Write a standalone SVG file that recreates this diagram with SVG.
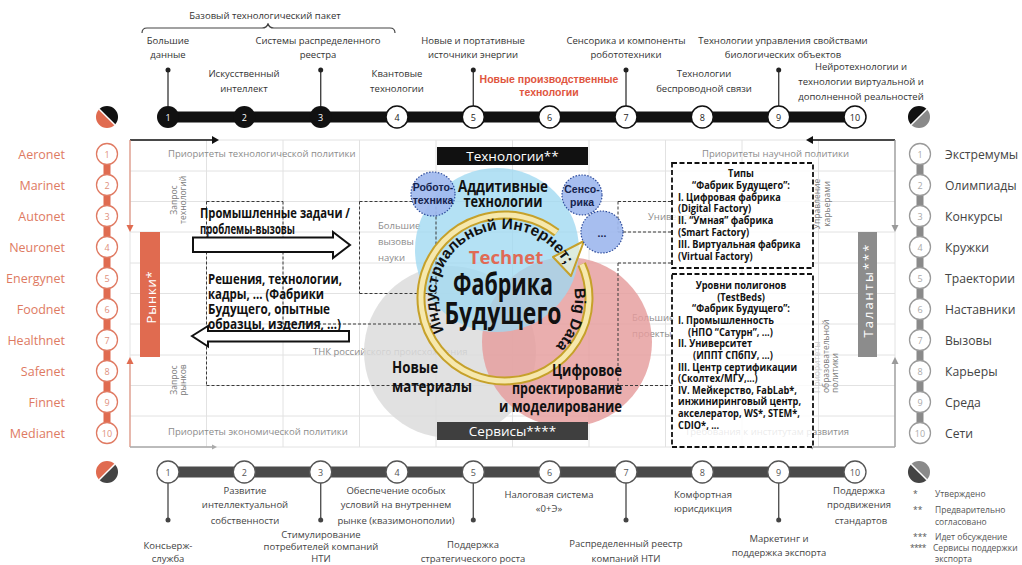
<svg xmlns="http://www.w3.org/2000/svg" width="1022" height="565" viewBox="0 0 1022 565">
<defs>
<style>
text{font-family:"Open Sans","Liberation Sans",sans-serif}
.t{font-size:9.5px;fill:#333;text-anchor:middle}
.b{font-family:"Liberation Sans",Arial,sans-serif;font-weight:bold;fill:#111}
.g{stroke:#e2e2e2;stroke-width:1;fill:none}
.d{stroke:#3a3a3a;stroke-width:1;stroke-dasharray:3 2;fill:none}
.box{stroke:#111;stroke-width:1.8;stroke-dasharray:5 2.5;fill:#fff;fill-opacity:0.82}
.gl{font-size:9.5px;fill:#8c8c8c}
.sc{fill:#9fb9ee;fill-opacity:0.92;stroke:#2e4c9c;stroke-width:1.2;stroke-dasharray:1.5 1.5}
.sct{font-family:"Liberation Sans",Arial,sans-serif;font-weight:bold;font-size:10.5px;fill:#14224d;text-anchor:middle}
.ln{font-size:12.5px;fill:#de7a62;text-anchor:end}
.rn{font-size:12.2px;fill:#444}
.cn{font-size:9px;text-anchor:middle}
.lc{fill:#fff;stroke:#e07a62;stroke-width:1.3}
.rc{fill:#fff;stroke:#9a9a9a;stroke-width:1.3}
.tk{fill:#111}
.tw{fill:#fff;stroke:#111;stroke-width:1.5}
.bw{fill:#fff;stroke:#555;stroke-width:1.3}
.stem{stroke:#444;stroke-width:1.4}
</style>
<path id="tp1" d="M445.2 332.5 A69 69 0 1 1 567.5 268.8"/>
<path id="tp2" d="M573.5 283.4 A70 70 0 0 1 545.2 355.3"/>
</defs>
<rect width="1022" height="565" fill="#fff"/>

<!-- grid -->
<g id="grid" class="g">
<path d="M130 140H895M130 171H895M130 201.5H895M130 232H895M130 263H895M130 293.5H895M130 324H895M130 355H895M130 385.5H895M130 416H895M130 447H895"/>
<path d="M130 140V447M206.5 140V447M283 140V447M359.5 140V447M436 140V447M512.5 140V447M589 140V447M665.5 140V447M742 140V447M818.5 140V447M895 140V447"/>
</g>

<!-- frame arrows -->
<g id="frame" fill="none" stroke-width="1.3">
<path d="M130 140H213" stroke="#111"/>
<path d="M212 136L219 140L212 144Z" fill="#111"/>
<path d="M130 140V226" stroke="#e29a88"/>
<path d="M126.5 225L130 232L133.5 225Z" fill="#e06b50"/>
<path d="M130 447V363" stroke="#e29a88"/>
<path d="M126.5 364L130 357L133.5 364Z" fill="#e06b50"/>
<path d="M130 447H213" stroke="#aaa"/>
<path d="M212 444.5L217 447L212 449.5Z" fill="#aaa"/>
<path d="M895 140H812" stroke="#111"/>
<path d="M813 136L806 140L813 144Z" fill="#111"/>
<path d="M895 140V226" stroke="#999"/>
<path d="M891.5 225L895 232L898.5 225Z" fill="#999"/>
<path d="M895 447V363" stroke="#999"/>
<path d="M891.5 364L895 357L898.5 364Z" fill="#999"/>
<path d="M895 447H812" stroke="#aaa"/>
<path d="M813 444.5L808 447L813 449.5Z" fill="#aaa"/>
</g>

<!-- gray labels in grid -->
<g id="grid-labels" class="gl">
<text x="168" y="157">Приоритеты технологической политики</text>
<text x="168" y="435">Приоритеты экономической политики</text>
<text x="702" y="157">Приоритеты научной политики</text>
<text x="685" y="435">Требования к институтам развития</text>
<text x="378" y="229">Большие</text>
<text x="378" y="245">вызовы</text>
<text x="378" y="261">науки</text>
<text x="313" y="355">ТНК российского происхождения</text>
<text x="648" y="220">Университеты</text>
<text x="632" y="321">Большие</text>
<text x="632" y="337">проекты</text>
<g font-size="8.5" fill="#7a7a7a" text-anchor="middle">
<text transform="translate(177 200) rotate(-90)">Запрос</text>
<text transform="translate(186 200) rotate(-90)">технологий</text>
<text transform="translate(177 380) rotate(-90)">Запрос</text>
<text transform="translate(186 380) rotate(-90)">рынков</text>
<text transform="translate(820 204) rotate(-90)">Управление</text>
<text transform="translate(830 204) rotate(-90)">карьерами</text>
</g>
<g font-size="8.5" fill="#7a7a7a">
<text transform="translate(820 393) rotate(-90)" fill="#cfcfcf">Приоритеты</text>
<text transform="translate(829 393) rotate(-90)">образовательной</text>
<text transform="translate(838 393) rotate(-90)">политики</text>
</g>
</g>

<!-- Venn circles -->
<g id="venn">
<circle id="materials" cx="450" cy="352" r="86" fill="#dcdcdc" fill-opacity="0.85"/>
<circle id="digital" cx="567" cy="342" r="85" fill="#e59c9c" fill-opacity="0.82"/>
<circle id="additive" cx="497" cy="250" r="82" fill="#9fd8f1" fill-opacity="0.78"/>
</g>

<!-- dashed areas -->
<g id="dashed-areas" class="d">
<path d="M206.5 201.5H283M206.5 201.5V385.5M283 201.5V324M283 324H432M206.5 385.5H470"/>
<path d="M359.5 201.5H436M359.5 201.5V293.5M359.5 293.5H436M436 201.5V293.5"/>
<path d="M618 201.5H672M618 201.5V232M618 232H672M618 263H672M618 263V385.5M600 385.5H672"/>
</g>

<!-- cycle ring -->
<g id="cycle">
<path d="M556.7 232.6 A84 83 0 1 0 581.7 264.2" fill="none" stroke="#c6a12a" stroke-width="9"/>
<path d="M556.7 232.6 A84 83 0 1 0 581.7 264.2" fill="none" stroke="#f6e8ad" stroke-width="5"/>
<polygon points="553,257 584,241 571,276" fill="#eef1d6" fill-opacity="0.7" stroke="#c6a12a" stroke-width="2" stroke-linejoin="round"/>
<text class="b" font-size="15.5"><textPath href="#tp1" startOffset="2">Индустриальный Интернет;</textPath></text>
<text class="b" font-size="15.5"><textPath href="#tp2" startOffset="5">Big Data</textPath></text>
</g>

<!-- center labels -->
<g id="center-labels" class="b">
<text x="503" y="192" font-size="15.5" text-anchor="middle" textLength="90" lengthAdjust="spacingAndGlyphs">Аддитивные</text>
<text x="503" y="207" font-size="15.5" text-anchor="middle" textLength="79" lengthAdjust="spacingAndGlyphs">технологии</text>
<text x="506" y="264" font-size="18.5" text-anchor="middle" style="fill:#e06a55">Technet</text>
<text x="503" y="295" font-size="30" text-anchor="middle" textLength="100" lengthAdjust="spacingAndGlyphs">Фабрика</text>
<text x="503" y="324" font-size="30" text-anchor="middle" textLength="117" lengthAdjust="spacingAndGlyphs">Будущего</text>
<text x="392" y="373" font-size="16" textLength="46" lengthAdjust="spacingAndGlyphs">Новые</text>
<text x="392" y="392" font-size="16" textLength="80" lengthAdjust="spacingAndGlyphs">материалы</text>
<text x="622" y="376" font-size="16" text-anchor="end" textLength="70" lengthAdjust="spacingAndGlyphs">Цифровое</text>
<text x="622" y="394" font-size="16" text-anchor="end" textLength="110" lengthAdjust="spacingAndGlyphs">проектирование</text>
<text x="622" y="412" font-size="16" text-anchor="end" textLength="123" lengthAdjust="spacingAndGlyphs">и моделирование</text>
</g>

<!-- small circles -->
<g id="robotics"><circle class="sc" cx="433" cy="194" r="22"/><text class="sct" x="433" y="191">Робото-</text><text class="sct" x="433" y="204">техника</text></g>
<g id="sensorics"><circle class="sc" cx="582" cy="195" r="20"/><text class="sct" x="582" y="193">Сенсо-</text><text class="sct" x="582" y="206">рика</text></g>
<g id="etc"><circle class="sc" cx="602" cy="232" r="21"/><text class="sct" x="602" y="237" font-size="14">...</text></g>

<!-- block arrows and left texts -->
<g id="left-flow">
<polygon points="193,237.5 333,237.5 333,232 350,245 333,258 333,252 193,252" fill="#fff" stroke="#111" stroke-width="2"/>
<polygon points="192,336 208,326 208,331 349,331 349,341.5 208,341.5 208,346.5" fill="#fff" stroke="#111" stroke-width="2"/>
<g class="b" font-size="13.5">
<text x="200" y="217.5" textLength="150" lengthAdjust="spacingAndGlyphs">Промышленные задачи /</text>
<text x="200" y="234" textLength="95" lengthAdjust="spacingAndGlyphs">проблемы-вызовы</text>
<text x="208" y="284" textLength="134" lengthAdjust="spacingAndGlyphs">Решения, технологии,</text>
<text x="208" y="299" textLength="116" lengthAdjust="spacingAndGlyphs">кадры, … (Фабрики</text>
<text x="208" y="314" textLength="122" lengthAdjust="spacingAndGlyphs">Будущего, опытные</text>
<text x="208" y="329" textLength="133" lengthAdjust="spacingAndGlyphs">образцы, изделия, …)</text>
</g>
</g>

<!-- tech / services bars -->
<g id="tech-bar"><rect x="437" y="147" width="151" height="18" fill="#111"/><text x="512.5" y="161" font-size="13.5" fill="#fff" text-anchor="middle">Технологии**</text></g>
<g id="services-bar"><rect x="437" y="422" width="151" height="18" fill="#3f3f3f"/><text x="512.5" y="436" font-size="13.5" fill="#fff" text-anchor="middle">Сервисы****</text></g>

<!-- types box -->
<g id="types-box">
<rect class="box" x="672" y="163" width="141" height="105"/>
<g class="b" font-size="11" text-anchor="middle" transform="translate(741 0) scale(0.84 1)">
<text x="0" y="177">Типы</text>
<text x="0" y="188.8">“Фабрик Будущего”:</text>
</g>
<g class="b" font-size="11" transform="translate(678 0) scale(0.84 1)">
<text x="0" y="200.6">I. Цифровая фабрика</text>
<text x="0" y="212.4">(Digital Factory)</text>
<text x="0" y="224.2">II. “Умная” фабрика</text>
<text x="0" y="236">(Smart Factory)</text>
<text x="0" y="247.8">III. Виртуальная фабрика</text>
<text x="0" y="259.6">(Virtual Factory)</text>
</g>
</g>

<!-- testbeds box -->
<g id="testbeds-box">
<rect class="box" x="672" y="274" width="141" height="173"/>
<g class="b" font-size="11" text-anchor="middle" transform="translate(741 0) scale(0.84 1)">
<text x="0" y="289">Уровни полигонов</text>
<text x="0" y="300.7">(TestBeds)</text>
<text x="0" y="312.3">“Фабрик Будущего”:</text>
</g>
<g class="b" font-size="11" transform="translate(678 0) scale(0.84 1)">
<text x="0" y="324">I. Промышленность</text>
<text x="12" y="335.6">(НПО “Сатурн”, ...)</text>
<text x="0" y="347.3">II. Университет</text>
<text x="18" y="358.9">(ИППТ СПбПУ, ...)</text>
<text x="0" y="370.6">III. Центр сертификации</text>
<text x="0" y="382.2">(Сколтех/МГУ,...)</text>
<text x="0" y="393.9">IV. Мейкерство, FabLab*,</text>
<text x="0" y="405.5">инжиниринговый центр,</text>
<text x="0" y="417.2">акселератор, WS*, STEM*,</text>
<text x="0" y="428.8">CDIO*, ...</text>
</g>
</g>

<!-- markets / talents -->
<g id="markets"><rect x="140" y="232" width="20" height="125" fill="#e06b50"/><text transform="translate(155.5 297) rotate(-90)" font-size="13" fill="#fff" text-anchor="middle" letter-spacing="0.8">Рынки*</text></g>
<g id="talents"><rect x="858" y="232" width="19" height="125" fill="#8c8c8c"/><text transform="translate(872.5 290) rotate(-90)" font-size="13" fill="#fff" text-anchor="middle" letter-spacing="2">Таланты***</text></g>

<!-- left nets column -->
<g id="left-nets">
<path d="M107 154V433" stroke="#e06b50" stroke-width="7"/>
<g id="n1"><circle class="lc" cx="107" cy="154" r="10.5"/><text class="cn" x="107" y="157.5" fill="#e0907c">1</text><text class="ln" x="65" y="158.5">Aeronet</text></g>
<g id="n2"><circle class="lc" cx="107" cy="185" r="10.5"/><text class="cn" x="107" y="188.5" fill="#e0907c">2</text><text class="ln" x="65" y="189.5">Marinet</text></g>
<g id="n3"><circle class="lc" cx="107" cy="216" r="10.5"/><text class="cn" x="107" y="219.5" fill="#e0907c">3</text><text class="ln" x="65" y="220.5">Autonet</text></g>
<g id="n4"><circle class="lc" cx="107" cy="247" r="10.5"/><text class="cn" x="107" y="250.5" fill="#e0907c">4</text><text class="ln" x="65" y="251.5">Neuronet</text></g>
<g id="n5"><circle class="lc" cx="107" cy="278" r="10.5"/><text class="cn" x="107" y="281.5" fill="#e0907c">5</text><text class="ln" x="65" y="282.5">Energynet</text></g>
<g id="n6"><circle class="lc" cx="107" cy="309" r="10.5"/><text class="cn" x="107" y="312.5" fill="#e0907c">6</text><text class="ln" x="65" y="313.5">Foodnet</text></g>
<g id="n7"><circle class="lc" cx="107" cy="340" r="10.5"/><text class="cn" x="107" y="343.5" fill="#e0907c">7</text><text class="ln" x="65" y="344.5">Healthnet</text></g>
<g id="n8"><circle class="lc" cx="107" cy="371" r="10.5"/><text class="cn" x="107" y="374.5" fill="#e0907c">8</text><text class="ln" x="65" y="375.5">Safenet</text></g>
<g id="n9"><circle class="lc" cx="107" cy="402" r="10.5"/><text class="cn" x="107" y="405.5" fill="#e0907c">9</text><text class="ln" x="65" y="406.5">Finnet</text></g>
<g id="n10"><circle class="lc" cx="107" cy="433" r="10.5"/><text class="cn" x="107" y="436.5" fill="#e0907c">10</text><text class="ln" x="65" y="437.5">Medianet</text></g>
</g>

<!-- right talents column -->
<g id="right-talents">
<path d="M920 154V433" stroke="#8a8a8a" stroke-width="7"/>
<g id="r1"><circle class="rc" cx="920" cy="154" r="10.5"/><text class="cn" x="920" y="157.5" fill="#aaa">1</text><text class="rn" x="945" y="158.5">Экстремумы</text></g>
<g id="r2"><circle class="rc" cx="920" cy="185" r="10.5"/><text class="cn" x="920" y="188.5" fill="#aaa">2</text><text class="rn" x="945" y="189.5">Олимпиады</text></g>
<g id="r3"><circle class="rc" cx="920" cy="216" r="10.5"/><text class="cn" x="920" y="219.5" fill="#aaa">3</text><text class="rn" x="945" y="220.5">Конкурсы</text></g>
<g id="r4"><circle class="rc" cx="920" cy="247" r="10.5"/><text class="cn" x="920" y="250.5" fill="#aaa">4</text><text class="rn" x="945" y="251.5">Кружки</text></g>
<g id="r5"><circle class="rc" cx="920" cy="278" r="10.5"/><text class="cn" x="920" y="281.5" fill="#aaa">5</text><text class="rn" x="945" y="282.5">Траектории</text></g>
<g id="r6"><circle class="rc" cx="920" cy="309" r="10.5"/><text class="cn" x="920" y="312.5" fill="#aaa">6</text><text class="rn" x="945" y="313.5">Наставники</text></g>
<g id="r7"><circle class="rc" cx="920" cy="340" r="10.5"/><text class="cn" x="920" y="343.5" fill="#aaa">7</text><text class="rn" x="945" y="344.5">Вызовы</text></g>
<g id="r8"><circle class="rc" cx="920" cy="371" r="10.5"/><text class="cn" x="920" y="374.5" fill="#aaa">8</text><text class="rn" x="945" y="375.5">Карьеры</text></g>
<g id="r9"><circle class="rc" cx="920" cy="402" r="10.5"/><text class="cn" x="920" y="405.5" fill="#aaa">9</text><text class="rn" x="945" y="406.5">Среда</text></g>
<g id="r10"><circle class="rc" cx="920" cy="433" r="10.5"/><text class="cn" x="920" y="436.5" fill="#aaa">10</text><text class="rn" x="945" y="437.5">Сети</text></g>
</g>

<!-- top timeline -->
<g id="top-timeline">
<text class="t" x="265" y="19" font-size="10.5">Базовый технологический пакет</text>
<path d="M142 33Q142 28 147 28H262Q267 28 268 23.5Q269 28 274 28H390Q395 28 395 33" fill="none" stroke="#444" stroke-width="1.2"/>
<path d="M168 70V106M320.7 70V106M473.3 70V106M626 70V106M778.7 70V106" class="stem"/>
<g fill="#222"><circle cx="168" cy="70" r="2.5"/><circle cx="320.7" cy="70" r="2.5"/><circle cx="473.3" cy="70" r="2.5"/><circle cx="626" cy="70" r="2.5"/><circle cx="778.7" cy="70" r="2.5"/></g>
<path d="M168 117H855" stroke="#111" stroke-width="11"/>
<g id="tc1"><circle class="tk" cx="168" cy="117" r="11"/><text class="cn" x="168" y="120.5" fill="#fff">1</text></g>
<g id="tc2"><circle class="tk" cx="244.3" cy="117" r="11"/><text class="cn" x="244.3" y="120.5" fill="#fff">2</text></g>
<g id="tc3"><circle class="tk" cx="320.7" cy="117" r="11"/><text class="cn" x="320.7" y="120.5" fill="#fff">3</text></g>
<g id="tc4"><circle class="tw" cx="397" cy="117" r="11"/><text class="cn" x="397" y="120.5" fill="#222">4</text></g>
<g id="tc5"><circle class="tw" cx="473.3" cy="117" r="11"/><text class="cn" x="473.3" y="120.5" fill="#222">5</text></g>
<g id="tc6"><circle class="tw" cx="549.7" cy="117" r="11"/><text class="cn" x="549.7" y="120.5" fill="#222">6</text></g>
<g id="tc7"><circle class="tw" cx="626" cy="117" r="11"/><text class="cn" x="626" y="120.5" fill="#222">7</text></g>
<g id="tc8"><circle class="tw" cx="702.3" cy="117" r="11"/><text class="cn" x="702.3" y="120.5" fill="#222">8</text></g>
<g id="tc9"><circle class="tw" cx="778.7" cy="117" r="11"/><text class="cn" x="778.7" y="120.5" fill="#222">9</text></g>
<g id="tc10"><circle class="tw" cx="855" cy="117" r="11"/><text class="cn" x="855" y="120.5" fill="#222">10</text></g>
<text class="t" x="168" y="44">Большие</text><text class="t" x="168" y="58">данные</text>
<text class="t" x="244" y="77">Искусственный</text><text class="t" x="244" y="92">интеллект</text>
<text class="t" x="318" y="44">Системы распределенного</text><text class="t" x="318" y="58">реестра</text>
<text class="t" x="397" y="77">Квантовые</text><text class="t" x="397" y="92">технологии</text>
<text class="t" x="473" y="44">Новые и портативные</text><text class="t" x="473" y="58">источники энергии</text>
<text class="b" x="549" y="83" font-size="10.5" text-anchor="middle" style="fill:#e0553e">Новые производственные</text>
<text class="b" x="549" y="96" font-size="10.5" text-anchor="middle" style="fill:#e0553e">технологии</text>
<text class="t" x="626" y="44">Сенсорика и компоненты</text><text class="t" x="626" y="58">робототехники</text>
<text class="t" x="704" y="77">Технологии</text><text class="t" x="704" y="92">беспроводной связи</text>
<text class="t" x="783" y="44">Технологии управления свойствами</text><text class="t" x="783" y="58">биологических объектов</text>
<text class="t" x="861" y="70">Нейротехнологии и</text><text class="t" x="861" y="85">технологии виртуальной и</text><text class="t" x="861" y="100">дополненной реальностей</text>
</g>

<!-- bottom timeline -->
<g id="bottom-timeline">
<path d="M168 483V520M320.7 483V520M473.3 483V520M626 483V520M778.7 483V520" stroke="#555" stroke-width="1.4"/>
<g fill="#444"><circle cx="168" cy="520" r="2.5"/><circle cx="320.7" cy="520" r="2.5"/><circle cx="473.3" cy="520" r="2.5"/><circle cx="626" cy="520" r="2.5"/><circle cx="778.7" cy="520" r="2.5"/></g>
<path d="M168 472H855" stroke="#4a4a4a" stroke-width="11"/>
<g id="bc1"><circle class="bw" cx="168" cy="472" r="11"/><text class="cn" x="168" y="475.5" fill="#555">1</text></g>
<g id="bc2"><circle class="bw" cx="244.3" cy="472" r="11"/><text class="cn" x="244.3" y="475.5" fill="#555">2</text></g>
<g id="bc3"><circle class="bw" cx="320.7" cy="472" r="11"/><text class="cn" x="320.7" y="475.5" fill="#555">3</text></g>
<g id="bc4"><circle class="bw" cx="397" cy="472" r="11"/><text class="cn" x="397" y="475.5" fill="#555">4</text></g>
<g id="bc5"><circle class="bw" cx="473.3" cy="472" r="11"/><text class="cn" x="473.3" y="475.5" fill="#555">5</text></g>
<g id="bc6"><circle class="bw" cx="549.7" cy="472" r="11"/><text class="cn" x="549.7" y="475.5" fill="#555">6</text></g>
<g id="bc7"><circle class="bw" cx="626" cy="472" r="11"/><text class="cn" x="626" y="475.5" fill="#555">7</text></g>
<g id="bc8"><circle class="bw" cx="702.3" cy="472" r="11"/><text class="cn" x="702.3" y="475.5" fill="#555">8</text></g>
<g id="bc9"><circle class="bw" cx="778.7" cy="472" r="11"/><text class="cn" x="778.7" y="475.5" fill="#555">9</text></g>
<g id="bc10"><circle class="bw" cx="855" cy="472" r="11"/><text class="cn" x="855" y="475.5" fill="#555">10</text></g>
<g class="t" style="fill:#444">
<text x="168" y="549">Консьерж-</text><text x="168" y="562">служба</text>
<text x="245" y="494">Развитие</text><text x="245" y="508">интеллектуальной</text><text x="245" y="524">собственности</text>
<text x="321" y="538">Стимулирование</text><text x="321" y="550">потребителей компаний</text><text x="321" y="562">НТИ</text>
<text x="396" y="494">Обеспечение особых</text><text x="396" y="508">условий на внутреннем</text><text x="396" y="524">рынке (квазимонополии)</text>
<text x="473" y="548">Поддержка</text><text x="473" y="562">стратегического роста</text>
<text x="549" y="498">Налоговая система</text><text x="549" y="512">«0+Э»</text>
<text x="626" y="547">Распределенный реестр</text><text x="626" y="562">компаний НТИ</text>
<text x="703" y="498">Комфортная</text><text x="703" y="512">юрисдикция</text>
<text x="779" y="542">Маркетинг и</text><text x="779" y="556">поддержка экспорта</text>
<text x="859" y="494">Поддержка</text><text x="859" y="508">продвижения</text><text x="861" y="524">стандартов</text>
</g>
</g>

<!-- corner icons -->
<g id="icons">
<g id="icon-tl"><path d="M99.2 109.2A11 11 0 0 1 114.8 124.8Z" fill="#111"/><path d="M114.8 124.8A11 11 0 0 1 99.2 109.2Z" fill="#e06b50"/><path d="M99.2 109.2L114.8 124.8" stroke="#fff" stroke-width="1.5"/></g>
<g id="icon-tr"><path d="M911.2 124.8A11 11 0 0 1 926.8 109.2Z" fill="#111"/><path d="M926.8 109.2A11 11 0 0 1 911.2 124.8Z" fill="#8a8a8a"/><path d="M911.2 124.8L926.8 109.2" stroke="#fff" stroke-width="1.5"/></g>
<g id="icon-bl"><path d="M99.2 479.8A11 11 0 0 1 114.8 464.2Z" fill="#e06b50"/><path d="M114.8 464.2A11 11 0 0 1 99.2 479.8Z" fill="#444"/><path d="M99.2 479.8L114.8 464.2" stroke="#fff" stroke-width="1.5"/></g>
<g id="icon-br"><path d="M911.2 464.2A11 11 0 0 1 926.8 479.8Z" fill="#8a8a8a"/><path d="M926.8 479.8A11 11 0 0 1 911.2 464.2Z" fill="#444"/><path d="M911.2 464.2L926.8 479.8" stroke="#fff" stroke-width="1.5"/></g>
</g>

<!-- legend -->
<g id="legend" font-size="8.5" fill="#555">
<text x="913" y="497">*</text><text x="935" y="497">Утверждено</text>
<text x="913" y="513">**</text><text x="935" y="513">Предварительно</text><text x="935" y="525">согласовано</text>
<text x="913" y="540">***</text><text x="935" y="540">Идет обсуждение</text>
<text x="910" y="551" letter-spacing="-0.8">****</text><text x="933" y="551">Сервисы поддержки</text><text x="935" y="562">экспорта</text>
</g>
</svg>
